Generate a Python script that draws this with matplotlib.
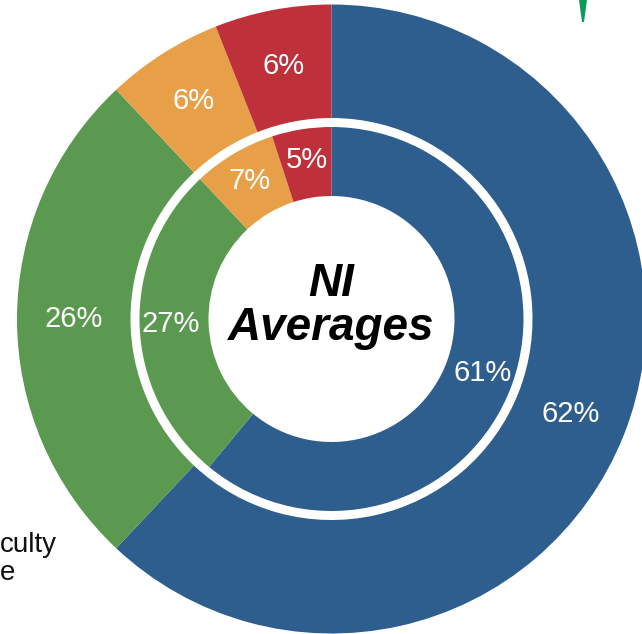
import matplotlib
matplotlib.use("Agg")
import numpy as np
import matplotlib.pyplot as plt
from matplotlib.patches import Polygon

plt.rcParams['font.family'] = ['Liberation Sans', 'DejaVu Sans']

# NI averages, outer ring vs inner ring (share in %)
categories = ['Blue', 'Green', 'Orange', 'Red']
outer_vals = [62, 26, 6, 6]
inner_vals = [61, 27, 7, 5]
colors = ['#2E5E8E', '#5B9950', '#E8A048', '#BE303A']

W, H = 642, 634
cx, cy = 331.5, 319.0   # pie centre in pixels (from top)
R = 314.5               # outer radius in pixels

fig = plt.figure(figsize=(W / 100, H / 100), dpi=100)
ax = fig.add_axes([0, 0, 1, 1])
ax.axis('off')

r_out_in = 201.0 / R
r_in_out = 192.0 / R
r_hole = 123.0 / R

w, _ = ax.pie(outer_vals, colors=colors, radius=1.0, startangle=90,
              counterclock=False,
              wedgeprops=dict(width=1.0 - r_out_in, linewidth=0))
for wedge, v in zip(w, outer_vals):
    ang = np.deg2rad((wedge.theta1 + wedge.theta2) / 2)
    rr = (1.0 + r_out_in) / 2
    ax.text(rr * np.cos(ang), rr * np.sin(ang), f'{v}%', color='white',
            fontsize=21, ha='center', va='center')

w2, _ = ax.pie(inner_vals, colors=colors, radius=r_in_out, startangle=90,
               counterclock=False,
               wedgeprops=dict(width=r_in_out - r_hole, linewidth=0))
for wedge, v in zip(w2, inner_vals):
    ang = np.deg2rad((wedge.theta1 + wedge.theta2) / 2)
    rr = (r_in_out + r_hole) / 2 + 0.01
    ax.text(rr * np.cos(ang), rr * np.sin(ang), f'{v}%', color='white',
            fontsize=21, ha='center', va='center')

ax.set_xlim(-cx / R, (W - cx) / R)
ax.set_ylim(-(H - cy) / R, cy / R)
ax.set_aspect('auto')

ax.text(0.0, (cy - 306) / R, 'NI\nAverages', fontsize=33, fontweight='bold',
        fontstyle='italic', ha='center', va='center', linespacing=1.0,
        color='black')

# legend fragments at the left edge
fig.text(0 / W, 1 - 552 / H, 'culty', fontsize=20, ha='left',
         va='baseline', color='#111111')
fig.text(0 / W, 1 - 580 / H, 'e', fontsize=20, ha='left',
         va='baseline', color='#111111')

# small green mark at the top right
fig.patches.append(Polygon([(579 / W, 1.0), (587 / W, 1.0),
                            (584 / W, 1 - 22 / H), (582 / W, 1 - 22 / H)],
                           closed=True, transform=fig.transFigure,
                           facecolor='#0E9A58', edgecolor='none'))

fig.savefig('out.png', dpi=100)
